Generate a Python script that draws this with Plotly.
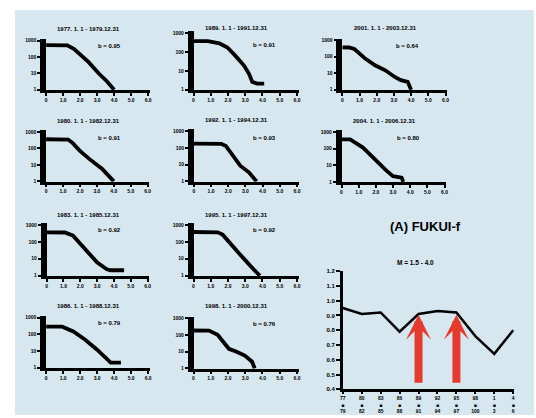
import plotly.graph_objects as go

W, H = 536, 418

# ---------------- data ----------------
period_labels = [
    "1977. 1. 1 - 1979.12.31", "1980. 1. 1 - 1982.12.31", "1983. 1. 1 - 1985.12.31",
    "1986. 1. 1 - 1988.12.31", "1989. 1. 1 - 1991.12.31", "1992. 1. 1 - 1994.12.31",
    "1995. 1. 1 - 1997.12.31", "1998. 1. 1 - 2000.12.31", "2001. 1. 1 - 2003.12.31",
    "2004. 1. 1 - 2006.12.31",
]
b_values = [0.95, 0.91, 0.92, 0.79, 0.91, 0.93, 0.92, 0.76, 0.64, 0.80]
period_ticks = ["77<br>■<br>79", "80<br>■<br>82", "83<br>■<br>85", "86<br>■<br>88",
                "89<br>■<br>91", "92<br>■<br>94", "95<br>■<br>97", "98<br>■<br>100",
                "1<br>■<br>3", "4<br>■<br>6"]

# cumulative magnitude-frequency curves (magnitude, cumulative number)
mag_1977 = [0, 1.25, 1.65, 1.95, 2.5, 3.1, 3.6, 4.0]
num_1977 = [540, 520, 310, 155, 49, 9.8, 3.1, 1]
mag_1980 = [0, 1.3, 1.55, 2.0, 2.55, 3.3, 4.0]
num_1980 = [355, 340, 220, 71, 23, 5.8, 1]
mag_1983 = [0, 1.09, 1.57, 2.05, 2.53, 3.01, 3.58, 3.8, 4.6]
num_1983 = [355, 350, 229, 69, 18, 5.9, 2.4, 2.1, 2.1]
mag_1986 = [0, 0.95, 1.6, 2.3, 3.0, 3.65, 3.8, 4.4]
num_1986 = [293, 290, 148, 48, 12, 3, 2, 2]
mag_1989 = [0, 0.83, 1.5, 1.97, 2.45, 2.93, 3.22, 3.41, 3.7, 4.1]
num_1989 = [372, 372, 284, 171, 60, 19, 7, 2.6, 2.1, 2.1]
mag_1992 = [0, 1.6, 1.86, 2.25, 2.7, 3.2, 3.65]
num_1992 = [180, 175, 130, 34, 8.7, 3.5, 1]
mag_1995 = [0, 1.4, 1.69, 2.05, 2.7, 3.3, 3.6, 3.85]
num_1995 = [375, 360, 262, 107, 18, 3.8, 2, 1]
mag_1998 = [0, 0.9, 1.4, 1.65, 2.05, 2.5, 3.0, 3.4, 3.55]
num_1998 = [188, 185, 103, 48, 15, 10, 5.7, 2.5, 1]
mag_2001 = [0, 0.4, 0.7, 1.35, 1.9, 2.5, 3.05, 3.4, 3.8, 4.0]
num_2001 = [370, 360, 290, 74, 30, 15, 5.9, 3.8, 3, 1]
mag_2004 = [0, 0.5, 1.25, 2.0, 2.6, 3.0, 3.5, 3.6]
num_2004 = [355, 350, 114, 19, 4.9, 2.2, 1.8, 1]

mags = [mag_1977, mag_1980, mag_1983, mag_1986, mag_1989, mag_1992, mag_1995, mag_1998, mag_2001, mag_2004]
nums = [num_1977, num_1980, num_1983, num_1986, num_1989, num_1992, num_1995, num_1998, num_2001, num_2004]

mag_tickvals = [0, 1, 2, 3, 4, 5, 6]
mag_ticktext = ["0", "1.0", "2.0", "3.0", "4.0", "5.0", "6.0"]
num_tickvals = [1, 10, 100, 1000]
num_ticktext = ["1", "10", "100", "1000"]

# ---------------- layout geometry (pixels) ----------------
# x(M=0), x(M=6), y(N=1), y(N=1000), title y, b-label x, b-label y
geom = [
    (43.5, 146.5, 88.0, 38.3, 26.5, 108, 43.3),
    (43.5, 146.0, 181.0, 130.7, 119.3, 107, 137.3),
    (44.0, 146.0, 276.7, 225.0, 215.0, 107, 230.0),
    (43.5, 146.5, 370.0, 319.3, 307.3, 107.5, 325.0),
    (192.3, 296.7, 88.0, 30.5, 25.0, 264, 43.0),
    (192.7, 296.7, 181.0, 130.0, 118.3, 264, 137.3),
    (192.3, 296.7, 276.7, 225.0, 215.0, 264, 230.0),
    (192.3, 296.7, 370.7, 320.0, 307.3, 264, 325.7),
    (342.5, 446.7, 88.0, 37.7, 25.0, 408, 43.3),
    (341.7, 445.7, 181.5, 130.7, 119.3, 409, 136.7),
]

FONT = "Liberation Sans, Arial, sans-serif"
BG = "#d6e7f0"

def px(x):
    return x / W

def py(y):
    return 1 - y / H

fig = go.Figure()
layout = dict(
    width=W, height=H, margin=dict(l=0, r=0, t=0, b=0),
    paper_bgcolor="white", plot_bgcolor="rgba(0,0,0,0)", showlegend=False,
    font=dict(family=FONT, color="black"),
    shapes=[dict(type="rect", xref="paper", yref="paper", x0=px(12), x1=1, y0=0, y1=py(7),
                 fillcolor=BG, line=dict(width=0), layer="below")],
    annotations=[],
)

XMAX = 6.1
YMIN, YMAX = -0.02, 3.1
for i, (g, lab, b, m, n) in enumerate(zip(geom, period_labels, b_values, mags, nums), start=1):
    x0, x6, yb, y3, ty, bx, by = g
    unit = (x6 - x0) / 6
    dec = (yb - y3) / 3
    left, right = x0, x0 + unit * XMAX
    bottom, top = yb - dec * YMIN, yb - dec * YMAX
    ax_id = "" if i == 1 else str(i)
    layout["xaxis" + ax_id] = dict(
        domain=[px(left), px(right)], range=[0, XMAX], anchor="y" + ax_id,
        showgrid=False, zeroline=False, showline=True, linecolor="black", linewidth=2.5,
        ticks="outside", ticklen=3, tickwidth=1.5, tickcolor="black",
        tickvals=mag_tickvals, ticktext=mag_ticktext,
        tickfont=dict(size=5, family=FONT, weight="bold"),
    )
    layout["yaxis" + ax_id] = dict(
        domain=[py(bottom), py(top)], type="log", range=[YMIN, YMAX], anchor="x" + ax_id,
        showgrid=False, zeroline=False, showline=True, linecolor="black", linewidth=5.5,
        ticks="outside", ticklen=3, tickwidth=1.5, tickcolor="black",
        tickvals=num_tickvals, ticktext=num_ticktext,
        tickfont=dict(size=5, family=FONT, weight="bold"),
    )
    fig.add_trace(go.Scatter(
        x=m, y=n, xaxis="x" + ax_id, yaxis="y" + ax_id, mode="lines",
        line=dict(color="black", width=3.8), hoverinfo="skip",
    ))
    layout["annotations"].append(dict(
        xref="paper", yref="paper", x=px(x0 + 2.5 * unit), y=py(ty), text=lab,
        showarrow=False, xanchor="center", yanchor="middle",
        font=dict(size=6, family=FONT, weight="bold"),
    ))
    layout["annotations"].append(dict(
        xref="paper", yref="paper", x=px(bx), y=py(by), text="b = %.2f" % b,
        showarrow=False, xanchor="center", yanchor="middle",
        font=dict(size=6, family=FONT, weight="bold"),
    ))

# ---------------- b-value time series panel ----------------
bi = "11"
cat_x0, cat_step = 343.0, 19.11
layout["xaxis" + bi] = dict(
    domain=[px(cat_x0), px(cat_x0 + cat_step * 9.05)], type="category", range=[0, 9.05],
    anchor="y" + bi, showgrid=False, zeroline=False, showline=True, linecolor="black", linewidth=3,
    ticks="outside", ticklen=2, tickwidth=1.5, tickcolor="black",
    tickfont=dict(size=5, family=FONT, weight="bold"),
)
layout["yaxis" + bi] = dict(
    domain=[py(392), py(272)], range=[0.4, 1.2], dtick=0.1, tickformat=".1f",
    anchor="x" + bi, showgrid=False, zeroline=False, showline=True, linecolor="black", linewidth=2.5,
    ticks="outside", ticklen=4, tickwidth=1.5, tickcolor="black",
    tickfont=dict(size=6, family=FONT, weight="bold"),
)
fig.add_trace(go.Scatter(
    x=period_ticks, y=b_values, xaxis="x" + bi, yaxis="y" + bi, mode="lines",
    line=dict(color="black", width=2.5), hoverinfo="skip",
))

ARROW_RED = "#e53a2e"
for k in (4, 6):
    layout["annotations"].append(dict(
        xref="x" + bi, yref="y" + bi, axref="x" + bi, ayref="y" + bi,
        x=period_ticks[k], y=0.905, ax=period_ticks[k], ay=0.435, text="",
        showarrow=True, arrowhead=3, arrowsize=0.52, arrowwidth=8, arrowcolor=ARROW_RED,
        standoff=0, startstandoff=0,
    ))

layout["annotations"].append(dict(
    xref="paper", yref="paper", x=px(426.7), y=py(227), text="(A) FUKUI-f",
    showarrow=False, xanchor="center", yanchor="middle",
    font=dict(size=13, family=FONT, weight="bold"),
))
layout["annotations"].append(dict(
    xref="paper", yref="paper", x=px(416.7), y=py(263.3), text="M = 1.5 - 4.0",
    showarrow=False, xanchor="center", yanchor="middle",
    font=dict(size=6.5, family=FONT, weight="bold"),
))

fig.update_layout(**layout)
fig.write_html(
    "out.html",
    config={"displayModeBar": False},
    post_script="document.body.style.margin='0';document.body.style.padding='0';",
)
